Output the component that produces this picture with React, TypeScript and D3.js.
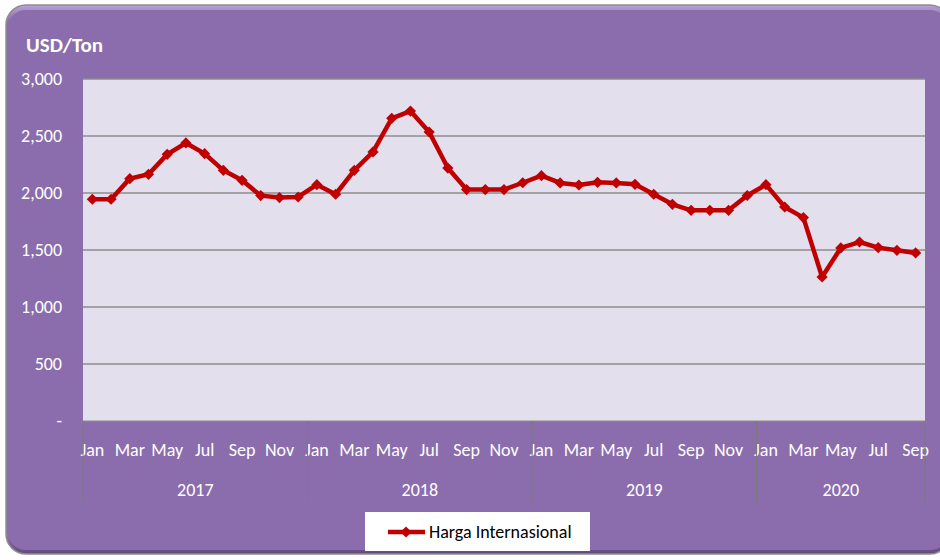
import React from 'react';
import * as d3 from 'd3';

// monthly international price, Jan 2017 - Sep 2020 (USD/Ton)
const years = ['2017', '2018', '2019', '2020'];
const monthNames = ['Jan', 'Feb', 'Mar', 'Apr', 'May', 'Jun', 'Jul', 'Aug', 'Sep', 'Oct', 'Nov', 'Dec'];
const monthsPerYear = [12, 12, 12, 9];
const prices = [
    1945, 1945, 2126, 2164, 2339, 2439, 2345, 2199, 2111, 1977, 1960, 1965,
    2073, 1989, 2199, 2360, 2655, 2719, 2535, 2219, 2030, 2030, 2030, 2090,
    2152, 2088, 2070, 2094, 2088, 2076, 1989, 1901, 1848, 1848, 1848, 1978,
    2073, 1877, 1784, 1263, 1518, 1570, 1521, 1497, 1474
];
const yTicks = [0, 500, 1000, 1500, 2000, 2500, 3000];
const seriesName = 'Harga Internasional';

const font = 'Calibri, Carlito, "Open Sans", sans-serif';

export default function App() {
    var width = 940, height = 560;
    var margin = { top: 79, right: 15, bottom: 139, left: 83 };

    // build category list from the year/month arrays
    var categories: { year: string, month: string, idx: number }[] = [];
    years.forEach((y, yi) => {
        for (let m = 0; m < monthsPerYear[yi]; m++) {
            categories.push({ year: y, month: monthNames[m], idx: categories.length });
        }
    });

    var x = d3.scaleBand<number>()
        .domain(categories.map(c => c.idx))
        .range([margin.left, width - margin.right])
        .padding(0);
    var bw = x.bandwidth();
    var cx = (i: number) => (x(i) as number) + bw / 2;

    var y = d3.scaleLinear()
        .domain([0, 3000])
        .range([height - margin.bottom, margin.top]);

    var line = d3.line<number>()
        .x((d, i) => cx(i))
        .y(d => y(d));

    var diamond = d3.symbol().type(d3.symbolDiamond2).size(80)();

    // year group boundaries
    var bounds: { year: string, start: number, end: number }[] = [];
    var acc = 0;
    years.forEach((yr, yi) => {
        bounds.push({ year: yr, start: acc, end: acc + monthsPerYear[yi] });
        acc += monthsPerYear[yi];
    });
    var bx = (i: number) => i >= categories.length ? width - margin.right : (x(i) as number);

    var plotBottom = height - margin.bottom;

    return (
        <svg width={width} height={height} style={{ position: 'absolute', left: 0, top: 0, fontFamily: font }}>
            <defs>
                <linearGradient id="edge" x1="0" y1="0" x2="0" y2="1">
                    <stop offset="0" stopColor="#b7a2d6" />
                    <stop offset="0.03" stopColor="#8b6dad" />
                    <stop offset="0.97" stopColor="#8b6dad" />
                    <stop offset="1" stopColor="#5f4a7a" />
                </linearGradient>
            </defs>
            <rect x={0} y={0} width={width} height={height} fill="#fff" />
            <rect x={6} y={5} width={944} height={549} rx={20} fill="url(#edge)" stroke="#8e8e8e" strokeWidth={1.5} />
            <rect x={8} y={10} width={940} height={540} rx={18} fill="#8b6dad" />

            <text x={26} y={52} fill="#fff" fontSize={21} fontWeight="bold">USD/Ton</text>

            {/* plot area */}
            <rect x={margin.left} y={margin.top} width={width - margin.left - margin.right}
                height={plotBottom - margin.top} fill="#e3dfed" />

            {yTicks.map(t => (
                <g key={t}>
                    <line x1={margin.left} x2={width - margin.right} y1={y(t)} y2={y(t)}
                        stroke="#8c8c8c" strokeWidth={t === 0 ? 1.2 : 1.5} />
                    <text x={62} y={y(t)} dy="0.35em" textAnchor="end" fill="#fff" fontSize={18}>
                        {t === 0 ? '-' : d3.format(',')(t)}
                    </text>
                </g>
            ))}

            {/* month labels, every other month */}
            {categories.filter(c => c.idx % 2 === 0).map(c => (
                <text key={c.idx} x={cx(c.idx)} y={450} dy="0.35em" textAnchor="middle" fill="#fff" fontSize={18}>
                    {c.month}
                </text>
            ))}

            {/* year groups */}
            {bounds.map(b => (
                <g key={b.year}>
                    <line x1={bx(b.start)} x2={bx(b.start)} y1={plotBottom} y2={503} stroke="#7a7a7a" strokeWidth={1} />
                    <text x={(bx(b.start) + bx(b.end)) / 2} y={490} dy="0.35em" textAnchor="middle" fill="#fff" fontSize={18}>
                        {b.year}
                    </text>
                </g>
            ))}
            <line x1={width - margin.right} x2={width - margin.right} y1={plotBottom} y2={503} stroke="#7a7a7a" strokeWidth={1} />

            {/* series */}
            <path d={line(prices) as string} fill="none" stroke="#c00000" strokeWidth={4.5} strokeLinejoin="round" />
            {prices.map((p, i) => (
                <path key={i} d={diamond as string} transform={`translate(${cx(i)},${y(p)})`} fill="#c00000" />
            ))}

            {/* legend */}
            <rect x={365} y={512} width={225} height={39} fill="#fff" />
            <line x1={388} x2={425} y1={532} y2={532} stroke="#c00000" strokeWidth={4.5} />
            <path d={diamond as string} transform="translate(406,532)" fill="#c00000" />
            <text x={429} y={532} dy="0.35em" fill="#000" fontSize={18}>{seriesName}</text>
        </svg>
    );
}
